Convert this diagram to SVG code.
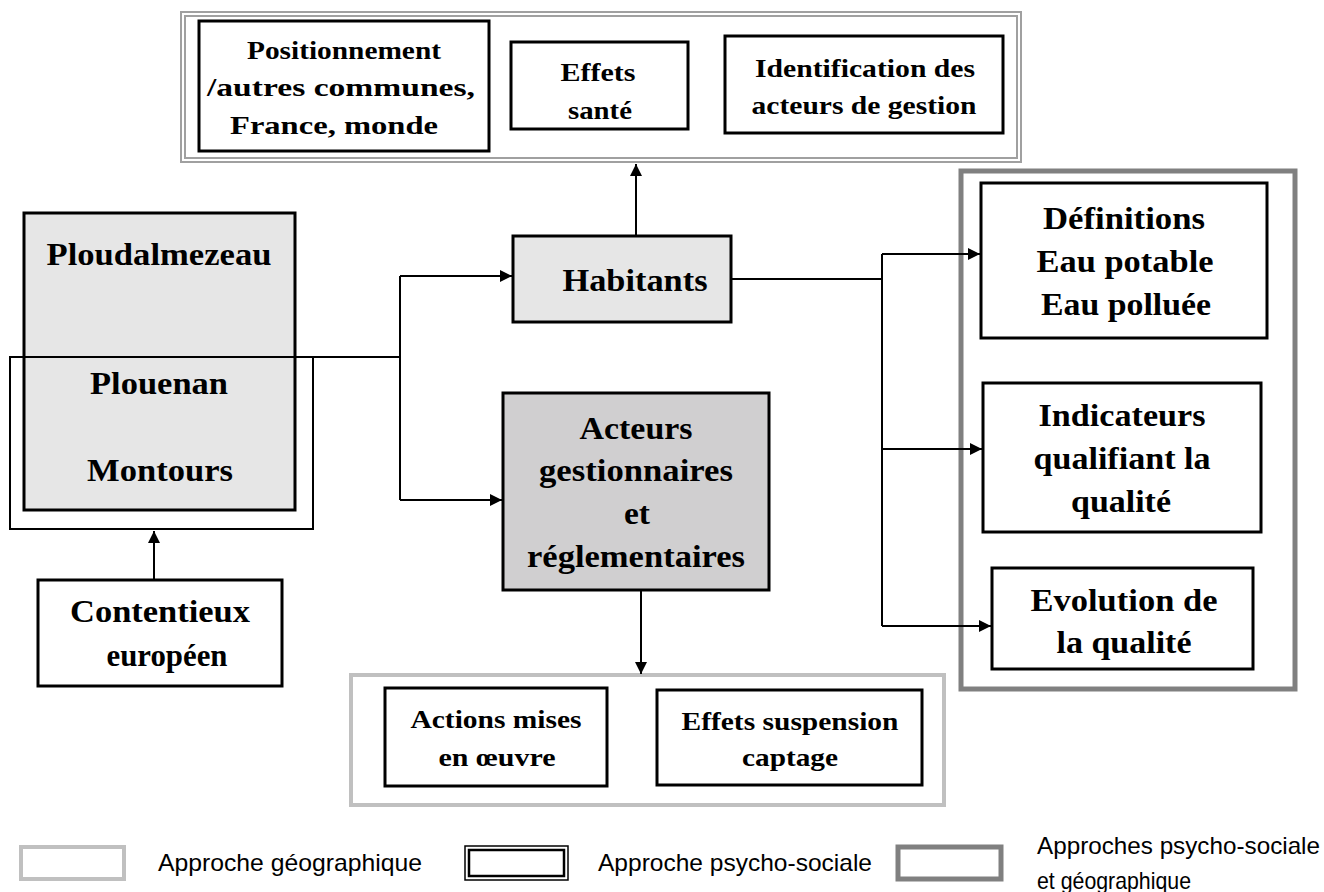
<svg xmlns="http://www.w3.org/2000/svg" width="1324" height="892" viewBox="0 0 1324 892">
<defs>
<marker id="arr" viewBox="0 0 10 10" refX="10" refY="5" markerWidth="12" markerHeight="12" markerUnits="userSpaceOnUse" orient="auto">
<path d="M0,0 L10,5 L0,10 Z" fill="#000"/>
</marker>
<style>
.box{fill:#fff;stroke:#000;stroke-width:3}
.g1{fill:#e6e6e6;stroke:#000;stroke-width:3}
.g2{fill:#d0cfd0;stroke:#000;stroke-width:3}
.t{font-family:"Liberation Serif","Times New Roman",serif;font-weight:bold;text-anchor:middle;fill:#000}
.L{font-size:31px}
.S{font-size:26px}
.leg{font-family:"Liberation Sans Narrow","Liberation Sans",Arial,sans-serif;font-size:24px;fill:#000}
.con{fill:none;stroke:#000;stroke-width:2}
</style>
</defs>

<g id="group-psycho">
<rect x="181" y="12" width="840" height="150" fill="#fff" stroke="#a0a0a0" stroke-width="2"/>
<rect x="185" y="16" width="832" height="142" fill="none" stroke="#a0a0a0" stroke-width="2"/>
</g>
<g id="group-geo">
<rect x="351" y="675" width="593" height="130" fill="#fff" stroke="#c0c0c0" stroke-width="4"/>
</g>
<g id="group-both">
<rect x="961" y="171" width="334" height="518" fill="#fff" stroke="#808080" stroke-width="5"/>
</g>

<g id="n-positionnement">
<rect class="box" x="199" y="21" width="290" height="130"/>
<text class="t S" x="344" y="59" textLength="194" lengthAdjust="spacingAndGlyphs">Positionnement</text>
<text class="t S" x="341" y="96" textLength="268" lengthAdjust="spacingAndGlyphs">/autres communes,</text>
<text class="t S" x="334" y="134" textLength="208" lengthAdjust="spacingAndGlyphs">France, monde</text>
</g>
<g id="n-effets-sante">
<rect class="box" x="511" y="42" width="177" height="87"/>
<text class="t S" x="598" y="81" textLength="75" lengthAdjust="spacingAndGlyphs">Effets</text>
<text class="t S" x="600" y="119" textLength="64" lengthAdjust="spacingAndGlyphs">santé</text>
</g>
<g id="n-identification">
<rect class="box" x="725" y="36" width="278" height="97"/>
<text class="t S" x="865" y="77" textLength="220" lengthAdjust="spacingAndGlyphs">Identification des</text>
<text class="t S" x="864" y="114" textLength="225" lengthAdjust="spacingAndGlyphs">acteurs de gestion</text>
</g>

<g id="n-ploudalmezeau">
<rect class="g1" x="24" y="213" width="271" height="297"/>
<text class="t L" x="159" y="265" textLength="225" lengthAdjust="spacingAndGlyphs">Ploudalmezeau</text>
<text class="t L" x="159" y="394" textLength="138" lengthAdjust="spacingAndGlyphs">Plouenan</text>
<text class="t L" x="160" y="481" textLength="146" lengthAdjust="spacingAndGlyphs">Montours</text>
</g>
<g id="n-plouenan-montours">
<rect x="10" y="357" width="303" height="172" fill="none" stroke="#000" stroke-width="2"/>
</g>

<g id="n-contentieux">
<rect class="box" x="38" y="580" width="244" height="106"/>
<text class="t L" x="160" y="622" textLength="180" lengthAdjust="spacingAndGlyphs">Contentieux</text>
<text class="t L" x="167" y="666" textLength="121" lengthAdjust="spacingAndGlyphs">européen</text>
</g>

<g id="n-habitants">
<rect class="g1" x="513" y="236" width="218" height="86"/>
<text class="t L" x="635" y="291" textLength="145" lengthAdjust="spacingAndGlyphs">Habitants</text>
</g>

<g id="n-acteurs">
<rect class="g2" x="503" y="393" width="266" height="197"/>
<text class="t L" x="636" y="439" textLength="113" lengthAdjust="spacingAndGlyphs">Acteurs</text>
<text class="t L" x="636" y="481" textLength="194" lengthAdjust="spacingAndGlyphs">gestionnaires</text>
<text class="t L" x="637" y="524" textLength="26" lengthAdjust="spacingAndGlyphs">et</text>
<text class="t L" x="636" y="567" textLength="218" lengthAdjust="spacingAndGlyphs">réglementaires</text>
</g>

<g id="n-actions">
<rect class="box" x="385" y="688" width="222" height="98"/>
<text class="t S" x="496" y="728" textLength="171" lengthAdjust="spacingAndGlyphs">Actions mises</text>
<text class="t S" x="497" y="766" textLength="117" lengthAdjust="spacingAndGlyphs">en œuvre</text>
</g>
<g id="n-effets-suspension">
<rect class="box" x="657" y="690" width="265" height="95"/>
<text class="t S" x="790" y="730" textLength="217" lengthAdjust="spacingAndGlyphs">Effets suspension</text>
<text class="t S" x="790" y="766" textLength="96" lengthAdjust="spacingAndGlyphs">captage</text>
</g>

<g id="n-definitions">
<rect class="box" x="981" y="183" width="286" height="155"/>
<text class="t L" x="1124" y="229" textLength="162" lengthAdjust="spacingAndGlyphs">Définitions</text>
<text class="t L" x="1125" y="272" textLength="177" lengthAdjust="spacingAndGlyphs">Eau potable</text>
<text class="t L" x="1126" y="315" textLength="170" lengthAdjust="spacingAndGlyphs">Eau polluée</text>
</g>
<g id="n-indicateurs">
<rect class="box" x="983" y="383" width="278" height="149"/>
<text class="t L" x="1122" y="426" textLength="167" lengthAdjust="spacingAndGlyphs">Indicateurs</text>
<text class="t L" x="1122" y="469" textLength="177" lengthAdjust="spacingAndGlyphs">qualifiant la</text>
<text class="t L" x="1121" y="512" textLength="100" lengthAdjust="spacingAndGlyphs">qualité</text>
</g>
<g id="n-evolution">
<rect class="box" x="992" y="568" width="261" height="101"/>
<text class="t L" x="1124" y="611" textLength="187" lengthAdjust="spacingAndGlyphs">Evolution de</text>
<text class="t L" x="1124" y="653" textLength="135" lengthAdjust="spacingAndGlyphs">la qualité</text>
</g>

<g id="connectors">
<polyline class="con" points="313,357 400,357"/>
<polyline class="con" points="400,276 400,500"/>
<polyline class="con" points="400,276 512,276" marker-end="url(#arr)"/>
<polyline class="con" points="400,500 502,500" marker-end="url(#arr)"/>
<polyline class="con" points="636,236 636,164" marker-end="url(#arr)"/>
<polyline class="con" points="154,580 154,531" marker-end="url(#arr)"/>
<polyline class="con" points="641,591 641,674" marker-end="url(#arr)"/>
<polyline class="con" points="731,279 882,279"/>
<polyline class="con" points="882,254 882,626"/>
<polyline class="con" points="882,254 980,254" marker-end="url(#arr)"/>
<polyline class="con" points="882,449 982,449" marker-end="url(#arr)"/>
<polyline class="con" points="882,626 991,626" marker-end="url(#arr)"/>
</g>

<g id="legend">
<rect x="21" y="847" width="103" height="32" fill="#fff" stroke="#c0c0c0" stroke-width="4"/>
<text class="leg" x="158" y="871" textLength="264" lengthAdjust="spacingAndGlyphs">Approche géographique</text>
<rect x="465" y="846" width="103" height="34" fill="#fff" stroke="#000" stroke-width="1.5"/>
<rect x="469" y="850" width="95" height="26" fill="none" stroke="#000" stroke-width="2.5"/>
<text class="leg" x="598" y="871" textLength="274" lengthAdjust="spacingAndGlyphs">Approche psycho-sociale</text>
<rect x="898" y="847" width="103" height="32" fill="#fff" stroke="#808080" stroke-width="5"/>
<text class="leg" x="1037" y="854" textLength="283" lengthAdjust="spacingAndGlyphs">Approches psycho-sociale</text>
<text class="leg" x="1037" y="889" textLength="154" lengthAdjust="spacingAndGlyphs">et géographique</text>
</g>
</svg>
